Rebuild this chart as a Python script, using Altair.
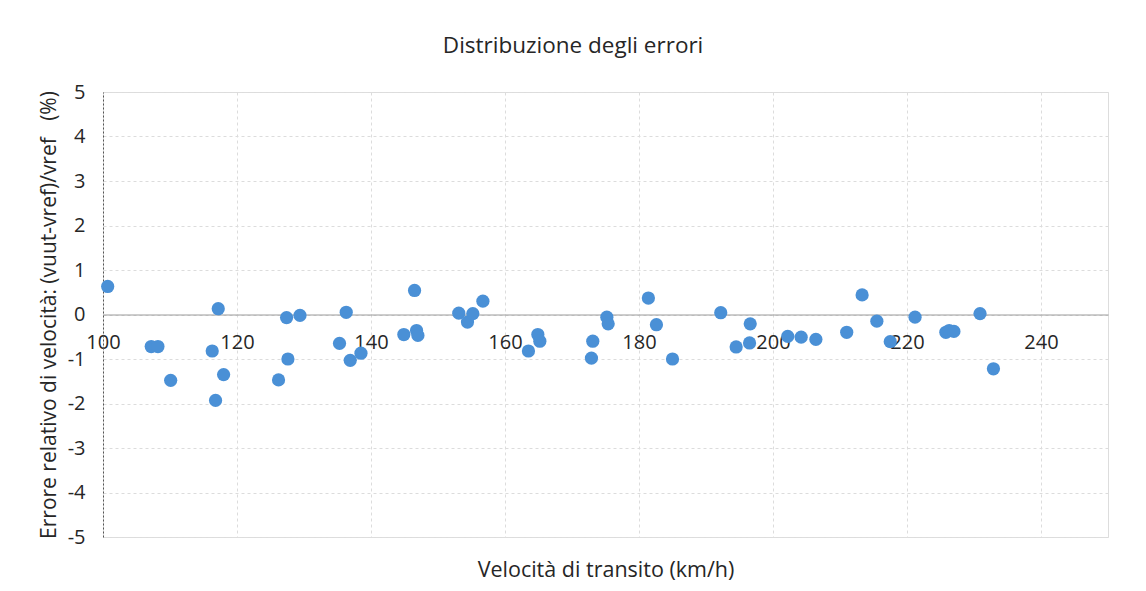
import altair as alt
import pandas as pd

# Velocità di transito (km/h)
speed = [100.7, 107.2, 108.2, 110.1, 116.3, 116.8, 117.2, 118.0, 126.2, 127.4,
         127.6, 129.4, 135.3, 136.3, 136.9, 138.5, 144.9, 146.5, 146.8, 147.0,
         153.1, 154.4, 155.2, 156.7, 163.5, 164.9, 165.2, 172.9, 173.1, 175.2,
         175.4, 181.4, 182.6, 185.0, 192.2, 194.5, 196.5, 196.6, 202.2, 204.2,
         206.4, 211.0, 213.3, 215.5, 217.5, 221.2, 225.8, 226.3, 227.0, 230.9,
         232.9]
# Errore relativo (%)
error = [0.63, -0.72, -0.72, -1.48, -0.82, -1.93, 0.13, -1.35, -1.47, -0.07,
         -1.00, -0.02, -0.65, 0.05, -1.03, -0.87, -0.45, 0.54, -0.36, -0.47,
         0.03, -0.17, 0.02, 0.30, -0.82, -0.45, -0.60, -0.98, -0.60, -0.06,
         -0.21, 0.37, -0.23, -1.00, 0.04, -0.73, -0.64, -0.21, -0.49, -0.51,
         -0.56, -0.40, 0.44, -0.15, -0.61, -0.06, -0.40, -0.36, -0.38, 0.02,
         -1.22]

x_ticks = [100, 120, 140, 160, 180, 200, 220, 240]
x_grid = [120, 140, 160, 180, 200, 220, 240]
y_ticks = [-5, -4, -3, -2, -1, 0, 1, 2, 3, 4, 5]

df = pd.DataFrame({"v": speed, "e": error})

FONT = "Open Sans"
W, H = 1005, 445
TXT = "#262626"

x_scale = alt.Scale(domain=[100, 250], nice=False, zero=False)
y_scale = alt.Scale(domain=[-5, 5], nice=False, zero=False)

# layer with background grid and bottom axis title
grid_layer = alt.Chart(df).mark_circle(opacity=0).encode(
    x=alt.X("v:Q", scale=x_scale,
            axis=alt.Axis(orient="bottom", values=x_grid, labels=False, ticks=False,
                          domain=False, grid=True, gridColor="#dcdcdc", gridDash=[3, 3],
                          title="Velocità di transito (km/h)", titleFont=FONT,
                          titleFontSize=21.5, titleFontWeight="normal", titleColor=TXT,
                          titlePadding=22)),
    y=alt.Y("e:Q", scale=y_scale,
            axis=alt.Axis(orient="right", values=y_ticks, labels=False, ticks=False,
                          domain=False, grid=True, gridColor="#dcdcdc", gridDash=[3, 3],
                          title=None)),
)

points = alt.Chart(df).mark_circle(size=175, color="#4A90D6", opacity=1).encode(
    x=alt.X("v:Q", scale=x_scale,
            axis=alt.Axis(orient="bottom", values=x_ticks, offset=-H / 2, grid=False,
                          title=None, tickSize=0, labelPadding=18, labelFont=FONT,
                          labelFontSize=20, labelColor=TXT, labelFlush=False,
                          domainColor="#9a9a9a", domainWidth=1)),
    y=alt.Y("e:Q", scale=y_scale,
            axis=alt.Axis(orient="left", values=y_ticks, grid=False, tickSize=0,
                          labelPadding=18, labelFont=FONT, labelFontSize=20,
                          labelColor=TXT, labelExpr="replace(datum.label, '−', '-')",
                          domainColor="#555555", domainDash=[2, 2],
                          title="Errore relativo di velocità: (vuut-vref)/vref\u00a0\u00a0\u00a0(%)",
                          titleFont=FONT, titleFontSize=21, titleFontWeight="normal",
                          titleColor=TXT, titlePadding=8)),
)

chart = alt.layer(grid_layer, points).resolve_axis(x="independent", y="independent").properties(
    width=W, height=H,
    title=alt.TitleParams("Distribuzione degli errori", font=FONT, fontSize=22.5,
                          fontWeight="normal", color=TXT, offset=25, frame="bounds",
                          anchor="middle"),
    autosize=alt.AutoSizeParams(type="none"),
    padding={"left": 95, "top": 84, "right": 30, "bottom": 46},
).configure_view(stroke=None).configure(background="white")

chart.save("out.html", embed_options={"renderer": "svg", "actions": False})
